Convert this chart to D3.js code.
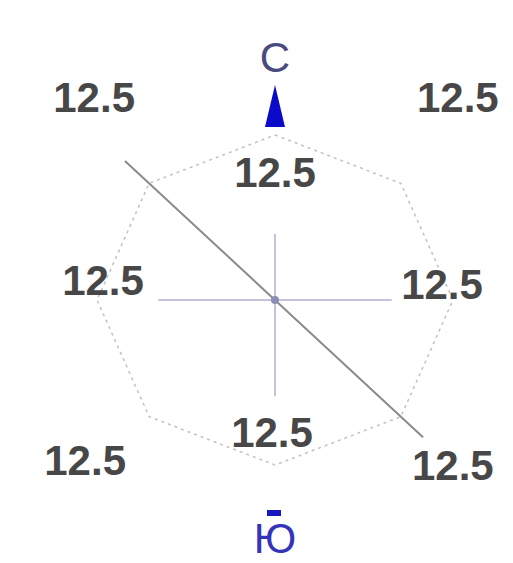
<!DOCTYPE html>
<html>
<head>
<meta charset="utf-8">
<style>
    body { margin: 0; background: #fff; }
    .val { font-family: "Liberation Sans", Arial, sans-serif; font-weight: bold; font-size: 42px; fill: #474747; }
    .cardinal { font-family: "Liberation Sans", Arial, sans-serif; font-size: 42px; }
</style>
</head>
<body>
<svg id="chart" width="513" height="563"></svg>
<script src="https://cdn.jsdelivr.net/npm/d3@7"></script>
<script>
// directions of the rose, clockwise from north
const directions = ["С", "СВ", "В", "ЮВ", "Ю", "ЮЗ", "З", "СЗ"]
// repeatability of wind, %
const frequency = [12.5, 12.5, 12.5, 12.5, 12.5, 12.5, 12.5, 12.5]
// axis arms drawn from the centre (length in % units)
const axisDirs = ["С", "В", "Ю", "З"]
const axisLens = [5, 8.2, 7.3, 8.2]
// long diagonal line (NW - SE)
const diagDirs = ["СЗ", "ЮВ"]
const diagLens = [14.9, 14.7]

// layout
const cx = 275, cy = 300
const rx = 178, ry = 165
// label centre offsets relative to the vertex, px
const labelShift = {
    "С":  [0, 37],   "СВ": [57, -86], "В":  [-11, -16], "ЮВ": [52, 48],
    "Ю":  [-3, -33], "ЮЗ": [-64, 43], "З":  [6, -20],   "СЗ": [-55, -86]
}

let svg = d3.select("#chart")

let angle = d3.scaleOrdinal()
    .domain(directions)
    .range(directions.map((d, i) => i * Math.PI / 4))
let r = d3.scaleLinear().domain([0, 12.5]).range([0, 1])

const px = (dir, v) => cx + rx * r(v) * Math.sin(angle(dir))
const py = (dir, v) => cy - ry * r(v) * Math.cos(angle(dir))

let data = directions.map((d, i) => ({dir: d, value: frequency[i]}))

// cross axes
svg.append("g")
    .selectAll("line")
    .data(axisDirs.map((d, i) => ({dir: d, len: axisLens[i]})))
    .join("line")
    .attr("x1", cx).attr("y1", cy)
    .attr("x2", d => px(d.dir, d.len))
    .attr("y2", d => py(d.dir, d.len))
    .attr("stroke", "#c4c4d8")
    .attr("stroke-width", 2)

// rose polygon
let rose = d3.line()
    .x(d => px(d.dir, d.value))
    .y(d => py(d.dir, d.value))
    .curve(d3.curveLinearClosed)

svg.append("path")
    .datum(data)
    .attr("d", rose)
    .attr("fill", "none")
    .attr("stroke", "#c4c4c4")
    .attr("stroke-width", 1.6)
    .attr("stroke-dasharray", "3,4")

// diagonal
svg.append("line")
    .attr("x1", px(diagDirs[0], diagLens[0]))
    .attr("y1", py(diagDirs[0], diagLens[0]))
    .attr("x2", px(diagDirs[1], diagLens[1]))
    .attr("y2", py(diagDirs[1], diagLens[1]))
    .attr("stroke", "#8a8a8a")
    .attr("stroke-width", 2)

// centre point
svg.append("circle")
    .attr("cx", cx).attr("cy", cy).attr("r", 4)
    .attr("fill", "#8c8cb8")

// value labels
svg.append("g")
    .selectAll("text")
    .data(data)
    .join("text")
    .attr("class", "val")
    .attr("text-anchor", "middle")
    .attr("x", d => px(d.dir, d.value) + labelShift[d.dir][0])
    .attr("y", d => py(d.dir, d.value) + labelShift[d.dir][1] + 15)
    .text(d => d.value)

// north arrow
let nTop = py("С", frequency[0])
svg.append("path")
    .attr("d", `M${cx},${nTop - 50} L${cx + 10},${nTop - 8} L${cx - 10},${nTop - 8} Z`)
    .attr("fill", "#0a0ac8")

svg.append("text")
    .attr("class", "cardinal")
    .attr("text-anchor", "middle")
    .attr("x", cx).attr("y", 72)
    .attr("fill", "#4a4a7e")
    .text("С")

// south mark
svg.append("rect")
    .attr("x", cx - 8).attr("y", 510)
    .attr("width", 14).attr("height", 6)
    .attr("fill", "#1818c0")

svg.append("text")
    .attr("class", "cardinal")
    .attr("text-anchor", "middle")
    .attr("x", cx).attr("y", 553)
    .attr("fill", "#3434b8")
    .text("Ю")
</script>
</body>
</html>
